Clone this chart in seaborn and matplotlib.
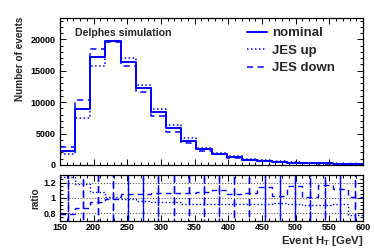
import numpy as np
import pandas as pd
import matplotlib
matplotlib.use('Agg')
import matplotlib.pyplot as plt
import seaborn as sns
from matplotlib.lines import Line2D
from matplotlib.ticker import MultipleLocator, FormatStrFormatter

#=====================
# 1: PODACI (procitani sa slike)
#=====================
ht_edges = np.linspace(150, 600, 21)   # 20 binova po 22.5 GeV
ht_centers = (ht_edges[:-1] + ht_edges[1:]) / 2

nominal = [2290, 8890, 17200, 19700, 16450, 12250, 8450, 5850, 3880, 2510,
           1810, 1280, 850, 690, 530, 370, 300, 250, 200, 160]
jes_up = [1760, 7450, 15810, 19800, 17040, 12780, 8950, 6360, 4260, 2720,
          1970, 1440, 1000, 760, 580, 410, 330, 280, 220, 200]
jes_down = [2920, 10270, 18480, 19650, 15700, 11550, 7850, 5290, 3560, 2290,
            1710, 1170, 790, 620, 480, 350, 270, 230, 190, 150]

# donji panel: nominal / varijacija
ratio_up = [1.27, 1.18, 1.08, 1.01, 0.985, 0.96, 0.95, 0.94, 0.925, 0.92,
            0.92, 0.92, 0.92, 0.92, 0.93, 0.92, 0.90, 0.91, 0.92, 0.77]
ratio_down = [0.79, 0.87, 0.94, 0.99, 1.05, 1.05, 1.06, 1.07, 1.07, 1.08,
              1.10, 1.05, 1.06, 1.14, 1.02, 1.15, 1.01, 1.17, 1.12, 1.01]
ratio_up_err = [0.6, 0.6, 0.6, 0.6, 0.6, 0.6, 0.6, 0.6, 0.6, 0.6,
                0.6, 0.6, 0.6, 0.6, 0.6, 0.6, 0.6, 0.6, 0.6, 0.6]
ratio_down_err = [0.6, 0.6, 0.6, 0.6, 0.6, 0.6, 0.6, 0.6, 0.6, 0.6,
                  0.6, 0.6, 0.6, 0.6, 0.6, 0.6, 0.6, 0.6, 0.6, 0.6]

series = [
    ('nominal', nominal, '-', 1.4),
    ('JES up', jes_up, ':', 1.1),
    ('JES down', jes_down, '--', 1.1),
]

#=====================
# 2: STIL
#=====================
sns.set_style('ticks')
plt.rcParams['font.family'] = ['Liberation Sans', 'DejaVu Sans']
plt.rcParams['font.weight'] = 'bold'
plt.rcParams['axes.labelweight'] = 'bold'
plt.rcParams['lines.dashed_pattern'] = [4, 3]
plt.rcParams['lines.dotted_pattern'] = [1, 1.6]

W, H = 374, 252
fig = plt.figure(figsize=(W / 100, H / 100), dpi=100)
ax = fig.add_axes([60 / W, 1 - 165 / H, 303 / W, 147 / H])
rax = fig.add_axes([60 / W, 1 - 220.7 / H, 303 / W, 45.7 / H])

#=====================
# 3: GORNJI PANEL
#=====================
for label, vals, ls, lw in series:
    df_h = pd.DataFrame({'ht': ht_centers, 'n': vals})
    sns.histplot(data=df_h, x='ht', weights='n', binwidth=22.5, binrange=(150, 600),
                 element='step', fill=False, color='blue', linestyle=ls,
                 linewidth=lw, ax=ax)

ax.set_xlim(150, 600)
ax.set_ylim(0, 23400)
ax.set_xlabel('')
ax.set_ylabel('Number of events', fontsize=7.2)
ax.yaxis.set_label_coords(-0.115, 0.72)
ax.xaxis.set_major_locator(MultipleLocator(50))
ax.xaxis.set_minor_locator(MultipleLocator(10))
ax.yaxis.set_major_locator(MultipleLocator(5000))
ax.yaxis.set_minor_locator(MultipleLocator(1000))
ax.tick_params(axis='x', labelbottom=False)

ax.text(0.05, 0.93, 'Delphes simulation', transform=ax.transAxes,
        fontsize=7.6, fontweight='bold', va='top', ha='left')

handles = [Line2D([], [], color='blue', linestyle=ls, linewidth=lw) for _, _, ls, lw in series]
labels = [s[0] for s in series]
ax.legend(handles, labels, loc='upper left', bbox_to_anchor=(0.6, 0.975),
          frameon=False, fontsize=9.5, handlelength=1.5, handletextpad=0.4,
          labelspacing=0.4, borderaxespad=0)

#=====================
# 4: DONJI PANEL (ratio)
#=====================
rax.stairs(ratio_up, ht_edges, baseline=None, color='blue', linestyle=':', linewidth=1.0)
rax.stairs(ratio_down, ht_edges, baseline=None, color='blue', linestyle='--', linewidth=1.0)
for vals, err in [(ratio_up, ratio_up_err), (ratio_down, ratio_down_err)]:
    eb = rax.errorbar(ht_centers, vals, yerr=err, fmt='none', ecolor='blue', elinewidth=1.0)
    eb.lines[2][0].set_linestyle((0, (5, 3)))

for yv in [0.8, 1.0, 1.2]:
    rax.axhline(yv, color='0.35', linestyle=':', linewidth=0.8, zorder=0)

rax.set_xlim(150, 600)
rax.set_ylim(0.7, 1.3)
rax.xaxis.set_major_locator(MultipleLocator(50))
rax.xaxis.set_minor_locator(MultipleLocator(10))
rax.yaxis.set_major_locator(MultipleLocator(0.2))
rax.yaxis.set_minor_locator(MultipleLocator(0.05))
rax.yaxis.set_major_formatter(FormatStrFormatter('%g'))
rax.set_ylabel('ratio', fontsize=7.2)
rax.yaxis.set_label_coords(-0.066, 0.5)
rax.set_xlabel('Event H$_\\mathregular{T}$ [GeV]', fontsize=8.2, loc='right', labelpad=0.8)

for a in (ax, rax):
    a.tick_params(which='both', direction='in', top=True, right=True,
                  labelsize=6.5, width=0.7, colors='black', pad=3)
    a.tick_params(which='major', length=4)
    a.tick_params(which='minor', length=2)
    for sp in a.spines.values():
        sp.set_visible(True)
        sp.set_linewidth(0.9)
        sp.set_color('black')
    for t in a.get_xticklabels() + a.get_yticklabels():
        t.set_fontweight('bold')
rax.tick_params(axis='x', pad=2)

plt.savefig('out.png', dpi=100)
